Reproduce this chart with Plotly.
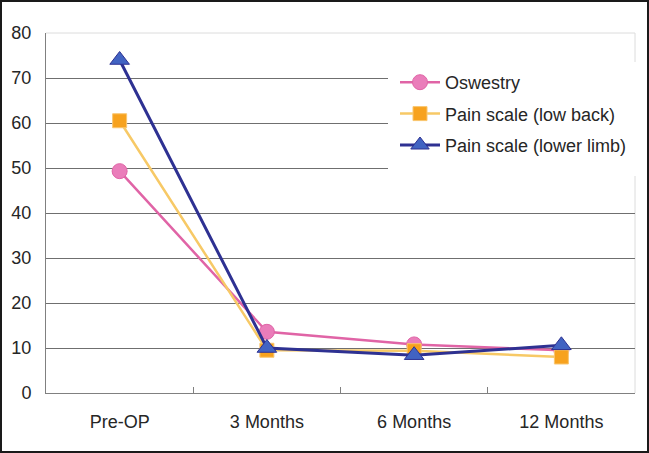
import plotly.graph_objects as go

categories = ["Pre-OP", "3 Months", "6 Months", "12 Months"]
oswestry = [49.3, 13.6, 10.8, 9.5]
pain_low_back = [60.5, 9.5, 9.4, 8.0]
pain_lower_limb = [74.0, 10.0, 8.4, 10.6]
y_ticks = [0, 10, 20, 30, 40, 50, 60, 70, 80]

W, H = 649, 453
ML, MR, MT, MB = 46, 14, 33, 60
PW, PH = W - ML - MR, H - MT - MB

FONT = "Liberation Sans, Arial, sans-serif"

fig = go.Figure()
fig.add_trace(go.Scatter(
    x=categories, y=oswestry, name="Oswestry", mode="lines+markers",
    legendgroup="a",
    line=dict(color="#E064A6", width=2.5),
    marker=dict(symbol="circle", size=15, color="#EA7DBA",
                line=dict(color="#E064A6", width=1))))
fig.add_trace(go.Scatter(
    x=categories, y=pain_low_back, name="Pain scale (low back)", mode="lines+markers",
    legendgroup="b",
    line=dict(color="#F7C966", width=2.5),
    marker=dict(symbol="square", size=14, color="#F7A21E",
                line=dict(color="#F9C670", width=1))))
fig.add_trace(go.Scatter(
    x=categories, y=pain_lower_limb, name="Pain scale (lower limb)", mode="lines+markers",
    legendgroup="c",
    line=dict(color="#2E3192", width=3),
    marker=dict(symbol="triangle-up", size=17, color="#4163C2",
                line=dict(color="#2E3192", width=1))))

fig.update_layout(
    width=W, height=H,
    margin=dict(l=ML, r=MR, t=MT, b=MB, pad=0),
    paper_bgcolor="white", plot_bgcolor="white",
    font=dict(family=FONT, size=18, color="#262626"),
    showlegend=True,
    legend=dict(
        x=(395 - ML) / PW, xanchor="left",
        y=(MT + PH - 64) / PH, yanchor="top",
        bgcolor="white", borderwidth=0,
        font=dict(family=FONT, size=18, color="#262626"),
        tracegroupgap=5, itemwidth=40,
    ),
    xaxis=dict(
        type="category", range=[-0.5, 3.5],
        showgrid=False, showline=True, linecolor="#808080", linewidth=1,
        ticks="inside", tickson="boundaries", ticklen=6, tickcolor="#808080",
        tickfont=dict(family=FONT, size=18, color="#262626"),
        ticklabelstandoff=12,
    ),
    yaxis=dict(
        range=[0, 80], tickvals=y_ticks,
        showgrid=True, gridcolor="#6f6f6f", gridwidth=1,
        showline=True, linecolor="#808080", linewidth=1,
        zeroline=False, ticks="",
        tickfont=dict(family=FONT, size=18, color="#262626"),
        ticklabelstandoff=10,
    ),
)

# white legend box area (covers grid lines behind the legend)
fig.add_shape(type="rect", xref="paper", yref="paper",
              x0=(388 - ML) / PW, x1=1 + (MR - 6) / PW,
              y0=(MT + PH - 176) / PH, y1=(MT + PH - 62) / PH,
              line=dict(width=0), fillcolor="white", layer="above")
# light border on top and right of plot area (covers top grid line)
fig.add_shape(type="line", xref="paper", yref="paper", x0=0, x1=1, y0=1, y1=1,
              line=dict(color="#dcdcdc", width=1), layer="above")
fig.add_shape(type="line", xref="paper", yref="paper", x0=1, x1=1, y0=0, y1=(MT + PH - 176) / PH,
              line=dict(color="#dcdcdc", width=1), layer="below")
fig.add_shape(type="line", xref="paper", yref="paper", x0=1, x1=1, y0=(MT + PH - 62) / PH, y1=1,
              line=dict(color="#dcdcdc", width=1), layer="below")
# image frame
fig.add_shape(type="rect", xref="paper", yref="paper",
              x0=-(ML - 1) / PW, x1=1 + (MR - 1) / PW,
              y0=-(MB - 1) / PH, y1=1 + (MT - 1) / PH,
              line=dict(color="#1a1a1a", width=2), fillcolor="rgba(0,0,0,0)", layer="above")

fig.write_html("out.html", config={"displayModeBar": False},
               post_script="document.body.style.margin='0';document.body.style.overflow='hidden';")
